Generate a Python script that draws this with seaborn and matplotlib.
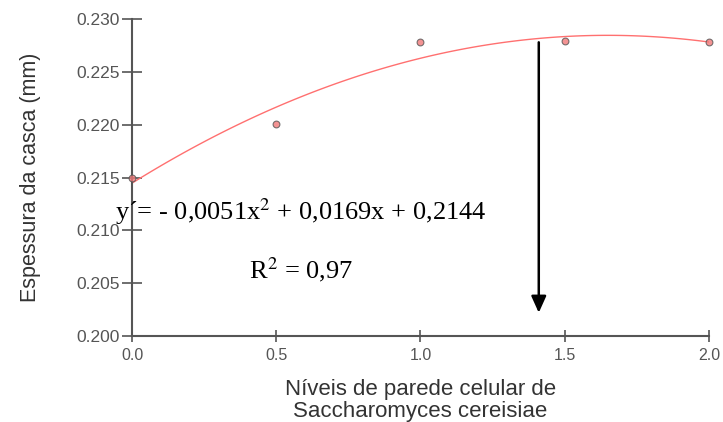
import matplotlib
matplotlib.use("Agg")
import matplotlib.pyplot as plt
import seaborn as sns
import pandas as pd

# Data
niveis = [0.0, 0.5, 1.0, 1.5, 2.0]
espessura = [0.2150, 0.2201, 0.2278, 0.2279, 0.2278]
x_ticks = [0.0, 0.5, 1.0, 1.5, 2.0]
y_ticks = [0.200, 0.205, 0.210, 0.215, 0.220, 0.225, 0.230]
arrow_x = 1.41
arrow_top = 0.2278
arrow_tip = 0.2022
equation = "y\u00b4= - 0,0051x$^{2}$ + 0,0169x + 0,2144"
r2_text = "R$^{2}$ = 0,97"

df = pd.DataFrame({"x": niveis, "y": espessura})

sns.set_style("white")
plt.rcParams['font.family'] = ['Liberation Sans', 'DejaVu Sans']
plt.rcParams['mathtext.fontset'] = 'stix'

fig = plt.figure(figsize=(7.23, 4.22), dpi=100)
ax = fig.add_axes([0.1826, 0.2038, 0.798, 0.751])

sns.regplot(data=df, x="x", y="y", order=2, ci=None, ax=ax,
            scatter_kws=dict(marker="D", s=24, color="#f07878", edgecolor="#555555", linewidths=0.8, zorder=3, clip_on=False),
            line_kws=dict(color="#ff7070", linewidth=1.0, zorder=2))

ax.set_xlim(0, 2.0)
ax.set_ylim(0.200, 0.230)
ax.set_xticks(x_ticks)
ax.set_yticks(y_ticks)
ax.set_xticklabels([f"{v:.1f}" for v in x_ticks], color="#555555", fontsize=11.5)
ax.set_yticklabels([f"{v:.3f}" for v in y_ticks], color="#555555", fontsize=12.5)
ax.tick_params(axis="y", left=True, direction="inout", length=14, width=1.2, color="#555555", pad=2)
ax.tick_params(axis="x", bottom=True, direction="inout", length=8, width=1.2, color="#555555", pad=5)
for s in ["top", "right"]:
    ax.spines[s].set_visible(False)
for s in ["left", "bottom"]:
    ax.spines[s].set_color("#555555")
    ax.spines[s].set_linewidth(1.5)

ax.set_xlabel("Níveis de parede celular de\nSaccharomyces cereisiae", fontsize=16, color="#333333", labelpad=11, linespacing=1.05)
ax.set_ylabel("Espessura da casca (mm)", fontsize=15.5, color="#333333")
ax.yaxis.set_label_coords(-0.158, 0.5)

ax.annotate("", xy=(arrow_x, arrow_tip), xytext=(arrow_x, arrow_top),
            arrowprops=dict(arrowstyle="-|>,head_length=1.0,head_width=0.45", color="black", lw=1.8, shrinkA=0, shrinkB=0))

serif = ['Liberation Serif', 'DejaVu Serif']
ax.text(-0.06, 0.2118, equation, fontsize=19, family=serif, ha="left", va="center", color="black")
ax.text(0.585, 0.2063, r2_text, fontsize=19, family=serif, ha="center", va="center", color="black")

fig.savefig("out.png", dpi=100)
